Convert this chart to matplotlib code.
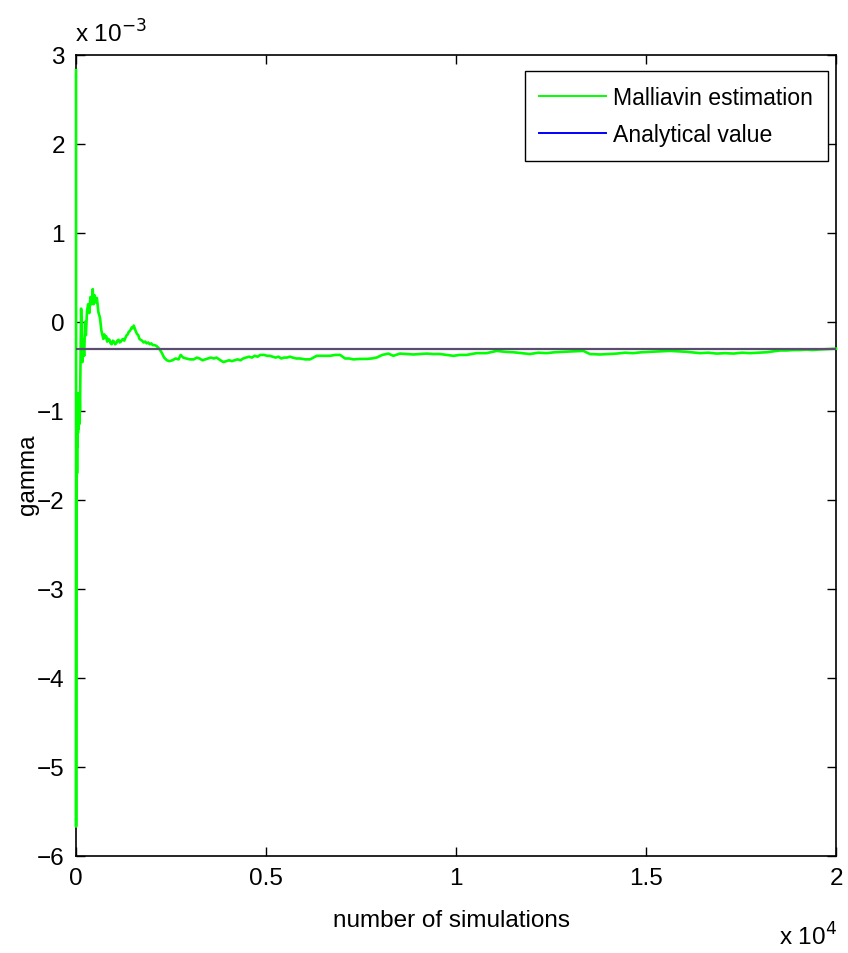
import numpy as np
import matplotlib
matplotlib.use("Agg")
import matplotlib.pyplot as plt
from matplotlib.ticker import FixedLocator, FuncFormatter
from matplotlib.lines import Line2D

plt.rcParams['font.family'] = ['Liberation Sans', 'DejaVu Sans']

# Running Malliavin estimate of gamma (units of 1e-3) vs. number of simulations
early_n = [1, 3, 6, 9, 12, 15, 19, 23, 28, 33,
           39, 45, 52, 60, 68, 76, 85, 95, 105, 115,
           125, 135, 150, 170, 190, 215, 240, 260, 290, 320,
           350, 380, 410, 440, 465, 490, 520, 550, 590, 630,
           670, 720, 745, 770, 795, 820, 850, 880, 910, 940,
           970, 1000, 1030, 1060, 1090, 1120, 1150, 1180, 1210, 1240,
           1270, 1300, 1330, 1360, 1390, 1420, 1445, 1470, 1495, 1520,
           1545, 1570, 1600, 1640, 1670, 1700, 1740, 1780, 1820, 1860,
           1900, 1940, 1980, 2020, 2070, 2120, 2190, 2250, 2320, 2390]
early_g = [2.83, -5.67, -2.4, -1.5, -2.2, -1.3, -1.9, -1.2, -1.7, -1.0,
           -1.4, -0.85, -1.25, -0.8, -1.2, -0.85, -1.15, -0.8, -1.0, -0.6,
           -0.3, 0.15, -0.1, -0.45, -0.2, -0.38, 0.0, -0.15, 0.12, 0.2,
           0.1, 0.28, 0.2, 0.37, 0.2, 0.3, 0.22, 0.27, 0.11, 0.05,
           -0.1, -0.19, -0.14, -0.18, -0.16, -0.22, -0.19, -0.2, -0.24, -0.25,
           -0.21, -0.22, -0.25, -0.24, -0.21, -0.2, -0.23, -0.22, -0.2, -0.19,
           -0.21, -0.18, -0.15, -0.14, -0.11, -0.1, -0.08, -0.06, -0.07, -0.04,
           -0.07, -0.1, -0.13, -0.15, -0.19, -0.2, -0.21, -0.23, -0.22, -0.24,
           -0.23, -0.25, -0.24, -0.26, -0.26, -0.27, -0.3, -0.34, -0.4, -0.43]

mid_n = [2460, 2540, 2620, 2700, 2755, 2820, 2900, 3000, 3100, 3180,
         3250, 3330, 3400, 3480, 3550, 3630, 3700, 3800, 3880, 3960,
         4030, 4100, 4180, 4250, 4330, 4400, 4480, 4550, 4630, 4700,
         4780, 4850, 4950, 5030, 5100, 5180, 5250, 5330, 5400, 5480,
         5550, 5630, 5700, 5800, 5895, 6030, 6160, 6250, 6335, 6500,
         6685, 6820, 6950, 7080, 7190, 7300, 7470, 7650, 7780, 7910]
mid_g = [-0.44, -0.43, -0.41, -0.42, -0.37, -0.40, -0.41, -0.42, -0.42, -0.40,
         -0.41, -0.43, -0.42, -0.41, -0.40, -0.41, -0.40, -0.43, -0.45, -0.44,
         -0.43, -0.44, -0.43, -0.42, -0.43, -0.41, -0.40, -0.39, -0.40, -0.38,
         -0.39, -0.37, -0.37, -0.38, -0.38, -0.39, -0.40, -0.39, -0.41, -0.40,
         -0.40, -0.39, -0.40, -0.41, -0.41, -0.42, -0.42, -0.40, -0.38, -0.38,
         -0.38, -0.37, -0.37, -0.41, -0.41, -0.42, -0.415, -0.415, -0.41, -0.40]

late_n = [8060, 8220, 8350, 8525, 8700, 8875, 9050, 9230, 9400, 9580,
          9750, 9930, 10100, 10280, 10540, 10805, 11070, 11290, 11510, 11730,
          11945, 12165, 12385, 12600, 12820, 13100, 13350, 13525, 13790, 14000,
          14225, 14445, 14665, 14880, 15100, 15360, 15630, 15850, 16070, 16420,
          16640, 16860, 17080, 17300, 17520, 17735, 17950, 18175, 18350, 18525,
          18700, 18875, 19050, 19225, 19380, 19530, 19760, 20000]
late_g = [-0.37, -0.355, -0.38, -0.355, -0.36, -0.365, -0.36, -0.355, -0.36, -0.36,
          -0.37, -0.38, -0.37, -0.37, -0.35, -0.35, -0.325, -0.335, -0.34, -0.35,
          -0.36, -0.345, -0.35, -0.34, -0.335, -0.33, -0.325, -0.36, -0.365, -0.36,
          -0.355, -0.345, -0.35, -0.34, -0.335, -0.33, -0.325, -0.33, -0.335, -0.35,
          -0.345, -0.355, -0.35, -0.355, -0.345, -0.35, -0.345, -0.34, -0.33, -0.32,
          -0.32, -0.315, -0.315, -0.31, -0.315, -0.31, -0.305, -0.30]

gamma_exact = -0.303
y_scale = 1e-3
x_scale = 1e4

x_ticks = [0, 0.5e4, 1e4, 1.5e4, 2e4]
y_ticks = [-6, -5, -4, -3, -2, -1, 0, 1, 2, 3]

n_sims = np.array(early_n + mid_n + late_n)
est = np.array(early_g + mid_g + late_g) * y_scale

fig = plt.figure(figsize=(8.48, 9.54), dpi=100)
ax = fig.add_axes([0.0896, 0.1017, 0.8963, 0.8396])

ax.plot(n_sims, est, color=(0, 1, 0), lw=1.9, zorder=3, clip_on=False)
ax.plot([0, 2e4], [gamma_exact * y_scale] * 2, color='#5b4d70', lw=1.6,
        zorder=3.5)

ax.set_xlim(0, 2e4)
ax.set_ylim(-6e-3, 3e-3)


def fmt(v):
    s = '%g' % v
    return s.replace('-', '\u2212')


ax.xaxis.set_major_locator(FixedLocator(x_ticks))
ax.yaxis.set_major_locator(FixedLocator([t * y_scale for t in y_ticks]))
ax.xaxis.set_major_formatter(FuncFormatter(lambda v, p: fmt(round(v / x_scale, 3))))
ax.yaxis.set_major_formatter(FuncFormatter(lambda v, p: fmt(round(v / y_scale, 3))))
ax.tick_params(direction='in', length=6.5, width=1, labelsize=17.5,
               top=True, right=True, pad=8)
for sp in ax.spines.values():
    sp.set_linewidth(1.2)

fig.text(0.088, 1 - 43 / 954, r'x 10$^{-3}$', fontsize=17.5, ha='left',
         va='baseline')
fig.text(0.987, 1 - 946 / 954, r'x 10$^{4}$', fontsize=17.5, ha='right',
         va='baseline')

fig.text((76 + 836) / 2 / 848 - 0.005, 1 - 921 / 954, 'number of simulations',
         fontsize=17.5, ha='center', va='center')
fig.text(28 / 848, 1 - 475 / 954, 'gamma', fontsize=17.5, rotation=90,
         ha='center', va='center')

handles = [Line2D([], [], color=(0, 1, 0), lw=1.4),
           Line2D([], [], color=(0, 0, 1), lw=1.4)]
leg = ax.legend(handles, ['Malliavin estimation', 'Analytical value'],
                loc='upper right', bbox_to_anchor=(0.989, 0.980),
                borderaxespad=0, fontsize=16.6, handlelength=2.9,
                handletextpad=0.3, labelspacing=0.62, borderpad=0.64,
                fancybox=False, framealpha=1)
leg.get_frame().set_edgecolor('black')
leg.get_frame().set_linewidth(1.0)
leg.set_zorder(5)

fig.savefig('out.png', dpi=100)
